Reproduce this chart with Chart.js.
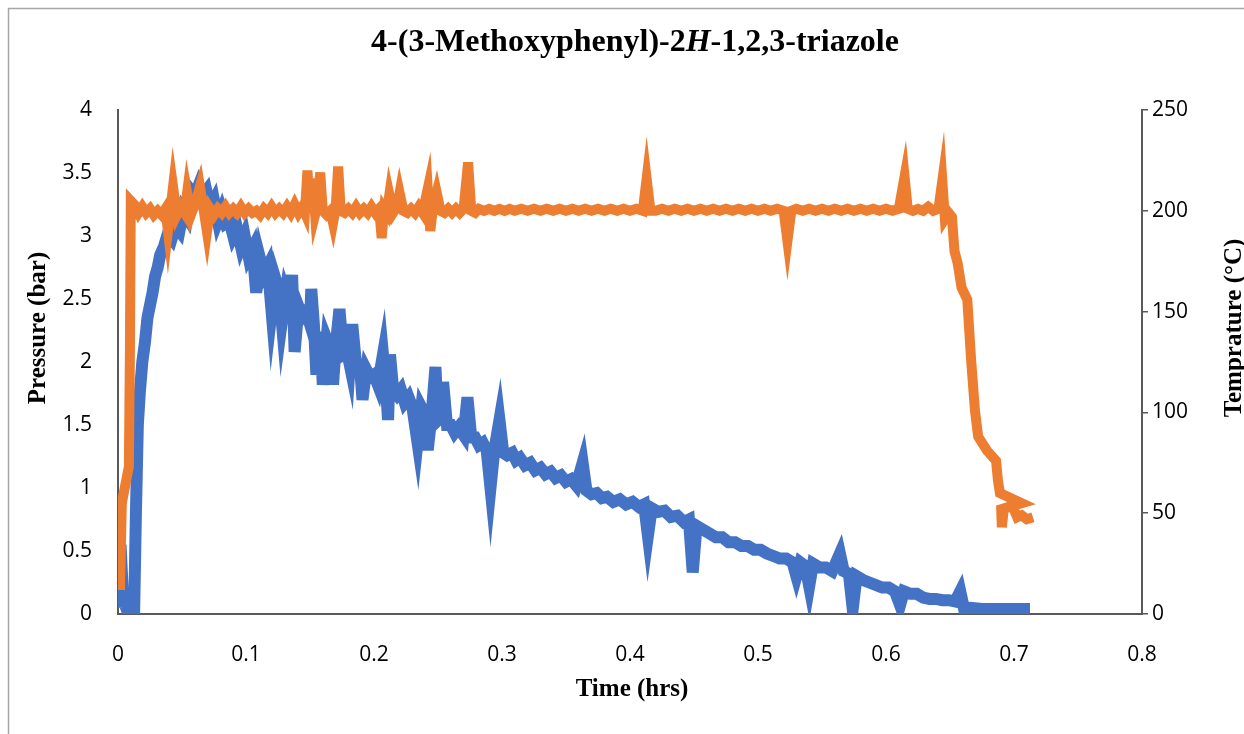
<!DOCTYPE html>
<html><head><meta charset="utf-8">
<script src="https://cdn.jsdelivr.net/npm/chart.js@4.4.1/dist/chart.umd.min.js"></script>
<style>html,body{margin:0;padding:0;background:#fff}#wrap{width:1244px;height:734px;position:relative}</style>
</head><body><div id="wrap"><canvas id="c" width="1244" height="734"></canvas></div>
<script>
// ---- data ----
const chartTitleParts = ['4-(3-Methoxyphenyl)-2', 'H', '-1,2,3-triazole'];
const xAxisTitle = 'Time (hrs)';
const leftAxisTitle = 'Pressure (bar)';
const rightAxisTitle = 'Temprature (°C)';
const seriesNames = ['Pressure', 'Temperature'];

const timePressure = [0.000,0.002,0.004,0.007,0.010,0.0125,0.014,0.0155,0.017,0.019,0.021,0.023,0.025,0.027,0.029,0.031,0.033,0.036,0.039,0.042,0.045,0.048,0.051,0.054,0.057,0.060,0.063,0.066,0.069,0.072,0.075,0.078,0.081,0.084,0.087,0.090,0.093,0.096,0.099,0.102,0.105,0.108,0.111,0.114,0.117,0.120,0.123,0.126,0.128,0.131,0.134,0.136,0.138,0.141,0.144,0.147,0.150,0.151,0.153,0.155,0.158,0.160,0.163,0.166,0.168,0.170,0.173,0.176,0.179,0.181,0.183,0.186,0.189,0.191,0.194,0.197,0.200,0.203,0.207,0.209,0.211,0.2125,0.215,0.218,0.221,0.224,0.227,0.230,0.234,0.237,0.240,0.242,0.245,0.248,0.250,0.252,0.254,0.257,0.260,0.263,0.266,0.270,0.273,0.276,0.279,0.282,0.285,0.288,0.291,0.294,0.298,0.301,0.304,0.308,0.311,0.314,0.318,0.322,0.326,0.330,0.334,0.338,0.342,0.346,0.350,0.354,0.358,0.363,0.366,0.370,0.374,0.378,0.382,0.387,0.392,0.397,0.402,0.407,0.411,0.414,0.417,0.422,0.427,0.432,0.437,0.442,0.446,0.449,0.452,0.457,0.462,0.467,0.472,0.477,0.482,0.487,0.492,0.497,0.502,0.507,0.512,0.517,0.522,0.527,0.530,0.533,0.537,0.540,0.543,0.548,0.553,0.558,0.564,0.567,0.571,0.574,0.577,0.582,0.587,0.592,0.597,0.602,0.607,0.611,0.614,0.619,0.624,0.629,0.634,0.639,0.644,0.649,0.654,0.658,0.661,0.666,0.675,0.685,0.695,0.705,0.7125];
const pressure = [0.05,0.55,0.12,0.03,0.00,-0.04,0.80,1.50,1.75,2.00,2.15,2.35,2.45,2.55,2.68,2.75,2.85,2.92,3.02,2.98,3.08,3.04,3.20,3.15,3.36,3.32,3.40,3.32,3.36,3.22,3.28,3.12,3.20,3.10,3.12,3.00,3.06,2.92,3.00,2.84,2.90,2.55,2.82,2.70,2.76,2.40,2.66,2.56,2.32,2.55,2.46,2.69,2.08,2.44,2.36,2.40,2.30,2.58,2.30,1.90,2.24,1.82,2.18,2.10,1.82,2.12,2.42,2.06,2.08,1.98,2.30,1.98,1.98,1.70,1.94,1.88,1.90,1.82,2.06,1.84,1.54,2.06,1.78,1.74,1.78,1.68,1.72,1.64,1.36,1.64,1.58,1.30,1.58,1.96,1.54,1.56,1.84,1.50,1.50,1.44,1.48,1.42,1.72,1.40,1.40,1.34,1.36,1.30,1.00,1.30,1.54,1.28,1.26,1.28,1.22,1.24,1.18,1.20,1.14,1.16,1.11,1.13,1.08,1.10,1.05,1.07,1.02,1.20,0.98,0.95,0.96,0.92,0.93,0.89,0.91,0.87,0.89,0.85,0.87,0.62,0.84,0.81,0.82,0.77,0.78,0.73,0.75,0.33,0.70,0.67,0.64,0.61,0.61,0.57,0.57,0.54,0.54,0.51,0.51,0.48,0.46,0.44,0.44,0.41,0.30,0.41,0.38,0.22,0.40,0.37,0.37,0.34,0.48,0.34,0.32,0.04,0.30,0.27,0.25,0.23,0.21,0.21,0.18,0.07,0.18,0.16,0.16,0.13,0.12,0.12,0.11,0.11,0.10,0.18,0.04,0.05,0.04,0.04,0.04,0.04,0.04];

const timeTemp = [0.000,0.0015,0.003,0.006,0.0085,0.0093,0.0100,0.013,0.016,0.019,0.022,0.025,0.028,0.031,0.034,0.037,0.039,0.043,0.046,0.049,0.052,0.054,0.057,0.060,0.064,0.067,0.0695,0.072,0.075,0.078,0.081,0.084,0.087,0.090,0.093,0.096,0.099,0.102,0.105,0.108,0.111,0.114,0.117,0.120,0.123,0.126,0.129,0.132,0.135,0.138,0.141,0.144,0.146,0.148,0.150,0.152,0.154,0.156,0.158,0.160,0.163,0.166,0.168,0.170,0.172,0.174,0.177,0.180,0.183,0.186,0.189,0.192,0.195,0.198,0.201,0.204,0.206,0.208,0.210,0.212,0.215,0.218,0.220,0.223,0.226,0.229,0.232,0.235,0.238,0.242,0.244,0.246,0.249,0.252,0.255,0.258,0.261,0.264,0.267,0.270,0.2735,0.276,0.279,0.282,0.286,0.290,0.294,0.298,0.302,0.306,0.310,0.315,0.320,0.325,0.330,0.335,0.340,0.345,0.350,0.355,0.360,0.365,0.370,0.375,0.380,0.385,0.390,0.395,0.400,0.405,0.410,0.413,0.416,0.420,0.425,0.430,0.435,0.440,0.445,0.450,0.455,0.460,0.465,0.470,0.475,0.480,0.485,0.490,0.495,0.500,0.505,0.510,0.515,0.520,0.523,0.526,0.530,0.535,0.540,0.545,0.550,0.555,0.560,0.565,0.570,0.575,0.580,0.585,0.590,0.595,0.600,0.605,0.610,0.6145,0.617,0.621,0.625,0.629,0.633,0.637,0.641,0.644,0.646,0.649,0.6515,0.6535,0.656,0.659,0.6635,0.6665,0.6695,0.672,0.679,0.686,0.6875,0.689,0.706,0.690,0.6905,0.692,0.6985,0.7025,0.706,0.710,0.7148];
const temperature = [50,12,55,65,73,130,205,203,199,202,199,201,198,200,198,201,190,212,198,202,199,209,198,203,212,200,189.5,201,198,201,199,202,199,201,199,202,199,201,199,200,198,201,199,202,199,201,199,202,199,203,199,202,199,220,201,216,198,203,219,200,198,200,194,201,222,200,199,201,199,202,199,201,199,202,199,201,186.5,201,199,208,199,202,209,200,199,201,199,202,199,211,190,201,209,200,199,201,199,201,199,201,224,200,199,201,200,201,200,201,200,201,200,201,200,201,200,201,200,201,200,201,200,201,200,201,200,201,200,201,200,201,200,216,200,200,201,200,201,200,201,200,201,200,201,200,201,200,201,200,201,200,201,200,201,200,185,200,201,200,201,200,201,200,201,200,201,200,201,200,201,200,201,200,201,217,201,200,201,200,202,200,201,215,196,199,197,180,174,162,156,126,101,88,81,76,66,60,55,52,43,52,54,48,49,47,48];

const xTickValues = [0,0.1,0.2,0.3,0.4,0.5,0.6,0.7,0.8];
const pressureTickValues = [0,0.5,1,1.5,2,2.5,3,3.5,4];
const tempTickValues = [0,50,100,150,200,250];

// ---- build ----
const toPoints = (xs, ys) => xs.map((x, i) => ({x: x, y: ys[i]}));
const axisColor = '#595959';
const tickFont = {family: "'Open Sans', sans-serif", size: 21};
const serif = "'Liberation Serif', 'Times New Roman', serif";

const textPlugin = {
  id: 'texts',
  beforeDraw(chart) {
    const ctx = chart.ctx;
    ctx.save();
    ctx.fillStyle = '#fff';
    ctx.fillRect(0, 0, chart.width, chart.height);
    ctx.strokeStyle = '#a6a6a6';
    ctx.lineWidth = 1.5;
    ctx.beginPath();
    ctx.moveTo(8.5, 734); ctx.lineTo(8.5, 8.5); ctx.lineTo(1244, 8.5);
    ctx.stroke();
    ctx.restore();
  },
  afterDraw(chart) {
    const ctx = chart.ctx;
    ctx.save();
    ctx.fillStyle = '#000';
    ctx.textBaseline = 'middle';
    const fN = 'bold 32px ' + serif, fI = 'italic bold 32px ' + serif;
    ctx.font = fN; const w0 = ctx.measureText(chartTitleParts[0]).width;
    ctx.font = fI; const w1 = ctx.measureText(chartTitleParts[1]).width;
    ctx.font = fN; const w2 = ctx.measureText(chartTitleParts[2]).width;
    let x = 635 - (w0 + w1 + w2) / 2;
    const ty = 43;
    ctx.textAlign = 'left';
    ctx.font = fN; ctx.fillText(chartTitleParts[0], x, ty); x += w0;
    ctx.font = fI; ctx.fillText(chartTitleParts[1], x, ty); x += w1;
    ctx.font = fN; ctx.fillText(chartTitleParts[2], x, ty);
    ctx.font = 'bold 25px ' + serif;
    ctx.textAlign = 'center';
    ctx.fillText(xAxisTitle, 632, 690);
    ctx.save(); ctx.translate(39, 328); ctx.rotate(-Math.PI / 2); ctx.fillText(leftAxisTitle, 0, 0); ctx.restore();
    ctx.save(); ctx.translate(1235, 328); ctx.rotate(-Math.PI / 2); ctx.fillText(rightAxisTitle, 0, 0); ctx.restore();
    ctx.restore();
  }
};

new Chart(document.getElementById('c'), {
  type: 'line',
  data: {
    datasets: [
      {label: seriesNames[1], data: toPoints(timeTemp, temperature), yAxisID: 'y1',
       borderColor: '#ED7D31', backgroundColor: '#ED7D31', borderWidth: 10, pointRadius: 0, tension: 0, order: 0},
      {label: seriesNames[0], data: toPoints(timePressure, pressure), yAxisID: 'y',
       borderColor: '#4472C4', backgroundColor: '#4472C4', borderWidth: 12, pointRadius: 0, tension: 0, order: 1}
    ]
  },
  options: {
    responsive: false, animation: false, devicePixelRatio: 1,
    layout: {padding: {top: 110, left: 0, right: 0, bottom: 0}},
    plugins: {legend: {display: false}, title: {display: false}, tooltip: {enabled: false}},
    scales: {
      x: {type: 'linear', min: 0, max: 0.8,
          afterBuildTicks: s => { s.ticks = xTickValues.map(v => ({value: v})); },
          afterFit: s => { s.height = 120; },
          grid: {display: false, drawTicks: false},
          border: {display: true, color: axisColor, width: 2},
          ticks: {font: tickFont, color: '#000', padding: 28, maxRotation: 0, autoSkip: false,
                  callback: v => String(Math.round(v * 10) / 10)}},
      y: {type: 'linear', position: 'left', min: 0, max: 4,
          afterBuildTicks: s => { s.ticks = pressureTickValues.map(v => ({value: v})); },
          afterFit: s => { s.width = 118; },
          grid: {display: false, drawTicks: false},
          border: {display: true, color: axisColor, width: 2},
          ticks: {font: tickFont, color: '#000', padding: 26, autoSkip: false,
                  callback: v => String(v)}},
      y1: {type: 'linear', position: 'right', min: 0, max: 250,
          afterBuildTicks: s => { s.ticks = tempTickValues.map(v => ({value: v})); },
          afterFit: s => { s.width = 102; },
          grid: {display: true, drawOnChartArea: false, drawTicks: true, tickLength: 6, color: axisColor, lineWidth: 1.5},
          border: {display: true, color: axisColor, width: 2},
          ticks: {font: tickFont, color: '#000', padding: 4, autoSkip: false,
                  callback: v => String(v)}}
    }
  },
  plugins: [textPlugin]
});
</script></body></html>
